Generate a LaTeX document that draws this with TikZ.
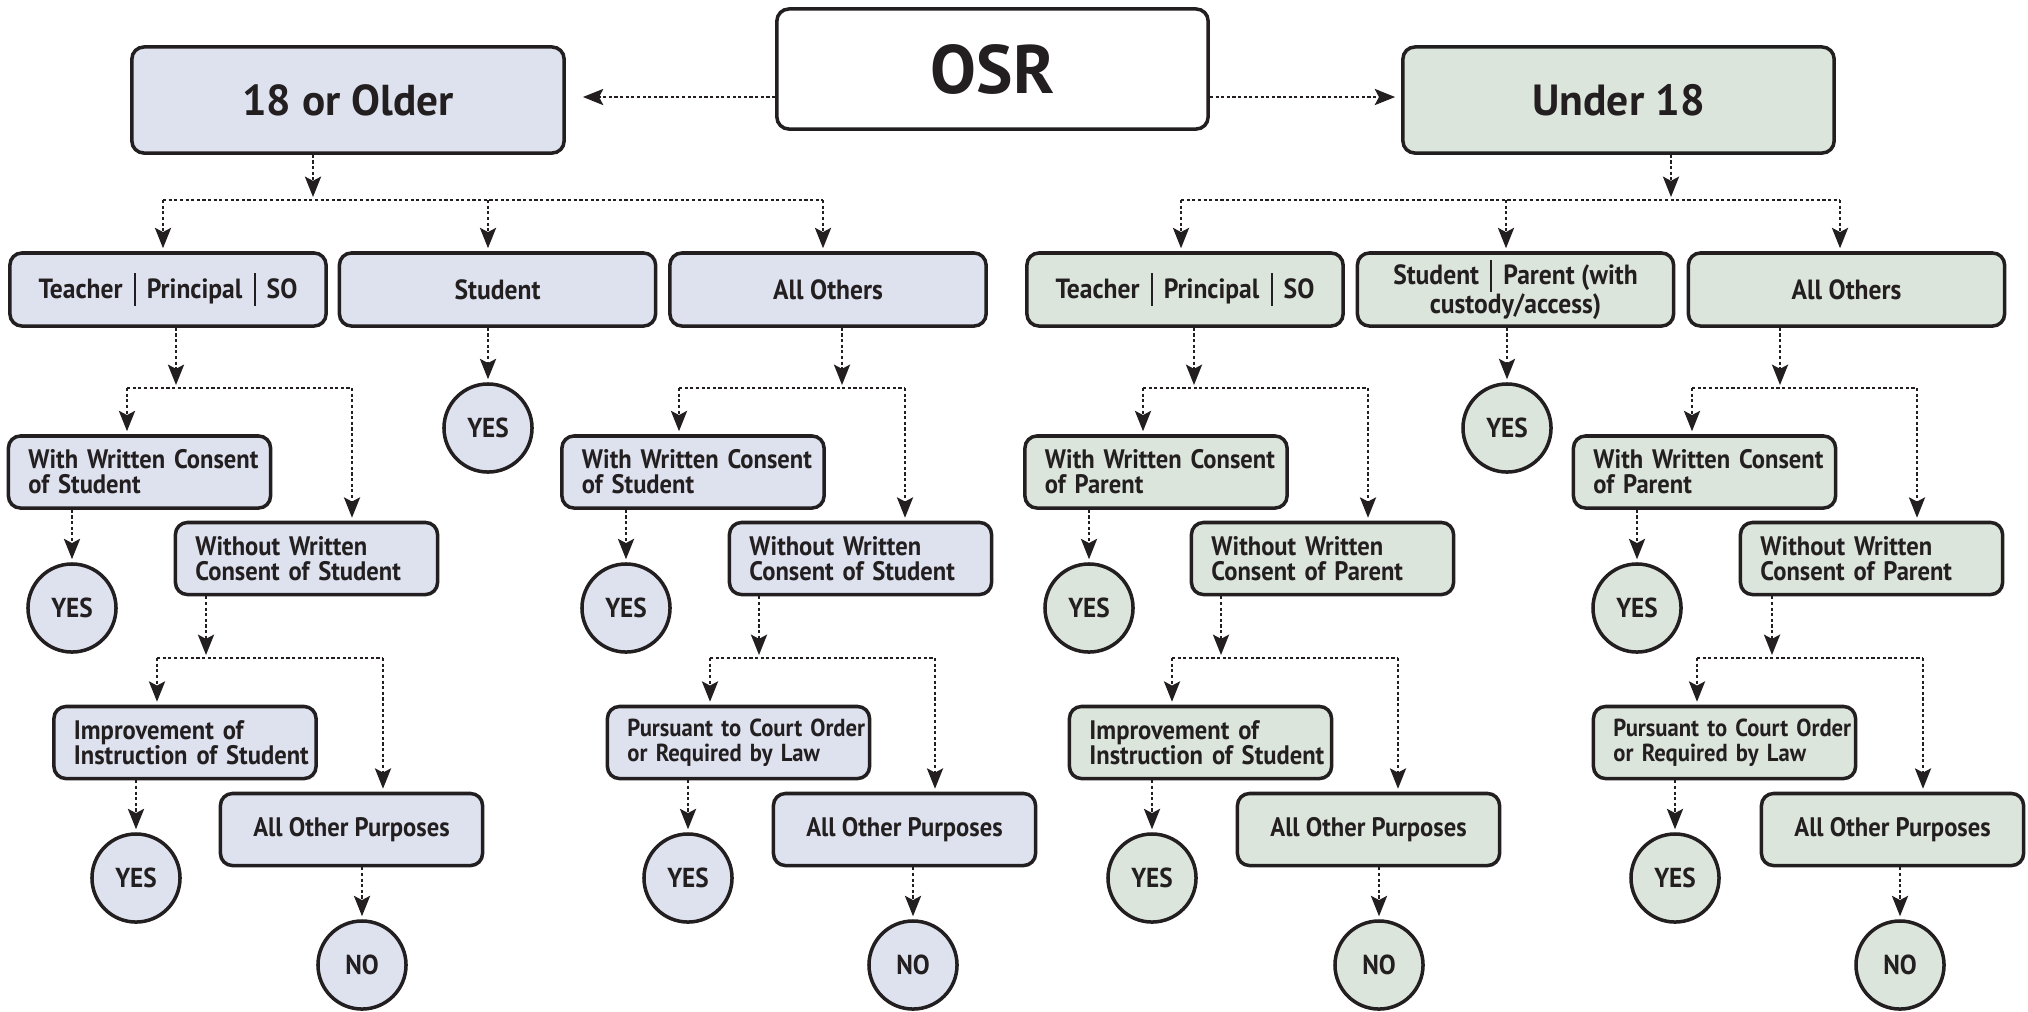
\documentclass[tikz,border=0pt]{standalone}
\usepackage{fontspec}
\setmainfont{PT Sans}
\newfontfamily\condfont{PT Sans}[FakeStretch=0.92]
\usetikzlibrary{arrows.meta}
\definecolor{fillL}{RGB}{222,226,239}
\definecolor{fillR}{RGB}{220,229,220}
\definecolor{ink}{RGB}{35,31,32}
\newcommand{\barsep}{\hspace{0.4em}\rule[-2.1pt]{0.6pt}{9.2pt}\hspace{0.4em}}
\newcommand{\mybranch}[7]{%
  \coordinate (#1-s) at (#2,#3);
  \coordinate (#1-a) at (#4,#3);
  \coordinate (#1-b) at (#5,#3);
  \draw[arr] (#1.south -| #1-s) -- (#1-s);
  \draw[conn] (#1-a) -- (#1-b);
  \draw[arr] (#1-a) -- (#1-a |- #6.north);
  \draw[arr] (#1-b) -- (#1-b |- #7.north);
}
\newcommand{\mytoyes}[2]{\draw[arr] (#1.south -| #2.north) -- (#2.north);}
\begin{document}
\begin{tikzpicture}[x=0.01cm,y=-0.01cm,
  every node/.style={text=ink},
  base/.style={draw=ink, line width=1pt, rounded corners=0.12cm},
  lvtwo/.style={base, minimum width=3.16cm, minimum height=0.73cm, align=center, inner sep=0pt, font=\condfont\fontsize{7.9}{8.1}\selectfont\bfseries},
  lvthree/.style={base, minimum height=0.72cm, text width=2.22cm, inner xsep=0.2cm, inner ysep=0pt, align=left, font=\condfont\fontsize{7.6}{7.1}\selectfont\bfseries},
  single/.style={base, minimum width=2.62cm, minimum height=0.72cm, inner sep=0pt, font=\condfont\fontsize{7.6}{7.1}\selectfont\bfseries},
  res/.style={circle, draw=ink, line width=1pt, minimum size=0.88cm, inner sep=0pt, font=\condfont\fontsize{7.8}{7.8}\selectfont\bfseries},
  L/.style={fill=fillL}, R/.style={fill=fillR},
  conn/.style={draw=ink, line width=0.6pt, dash pattern=on 0.9pt off 0.7pt},
  arr/.style={conn, -{Stealth[length=5.8pt,width=4.6pt,inset=1.2pt]}, shorten >=0.03cm},
  pursuant/.style={font=\condfont\fontsize{7.0}{7.1}\selectfont\bfseries},
]
\useasboundingbox (0,0) rectangle (2028,1011);

% top level
\node[base, fill=white, minimum width=4.31cm, minimum height=1.2cm, font=\fontsize{19.5}{20}\selectfont\bfseries] (osr) at (992.5,69) {OSR};
\node[base, L, minimum width=4.32cm, minimum height=1.06cm, font=\fontsize{12.3}{13}\selectfont\bfseries] (older) at (348,100) {18 or Older};
\node[base, R, minimum width=4.31cm, minimum height=1.06cm, font=\fontsize{12.4}{13}\selectfont\bfseries] (under) at (1618.5,100) {Under 18};

% level 2
\node[lvtwo, L] (tL) at (168,289.5) {Teacher\barsep Principal\barsep SO};
\node[lvtwo, L] (sL) at (497.5,289.5) {Student};
\node[lvtwo, L] (aL) at (828,289.5) {All Others};
\node[lvtwo, R] (tR) at (1185,289.5) {Teacher\barsep Principal\barsep SO};
\node[lvtwo, R] (sR) at (1515.5,289.5) {Student\barsep Parent (with\\custody/access)};
\node[lvtwo, R] (aR) at (1846.5,289.5) {All Others};

% level 3
\node[lvthree, L] (wL1) at (139.5,472) {\mbox{With Written Consent}\\\mbox{of Student}};
\node[lvthree, L] (woL1) at (306.5,558.5) {\mbox{Without Written}\\\mbox{Consent of Student}};
\node[lvthree, L] (wL2) at (693,472) {\mbox{With Written Consent}\\\mbox{of Student}};
\node[lvthree, L] (woL2) at (860.5,558.5) {\mbox{Without Written}\\\mbox{Consent of Student}};
\node[lvthree, R] (wR1) at (1156,472) {\mbox{With Written Consent}\\\mbox{of Parent}};
\node[lvthree, R] (woR1) at (1322.5,558.5) {\mbox{Without Written}\\\mbox{Consent of Parent}};
\node[lvthree, R] (wR2) at (1704.5,472) {\mbox{With Written Consent}\\\mbox{of Parent}};
\node[lvthree, R] (woR2) at (1871.5,558.5) {\mbox{Without Written}\\\mbox{Consent of Parent}};

% level 4
\node[lvthree, L] (impL) at (185,742.5) {\mbox{Improvement of}\\\mbox{Instruction of Student}};
\node[single, L] (aopL1) at (351.5,829.5) {All Other Purposes};
\node[lvthree, L, pursuant] (purL) at (738.5,742.5) {\mbox{Pursuant to Court Order}\\\mbox{or Required by Law}};
\node[single, L] (aopL2) at (904.5,829.5) {All Other Purposes};
\node[lvthree, R] (impR) at (1200.5,742.5) {\mbox{Improvement of}\\\mbox{Instruction of Student}};
\node[single, R] (aopR1) at (1368.5,829.5) {All Other Purposes};
\node[lvthree, R, pursuant] (purR) at (1724.5,742.5) {\mbox{Pursuant to Court Order}\\\mbox{or Required by Law}};
\node[single, R] (aopR2) at (1892.5,829.5) {All Other Purposes};

% results
\node[res, L] (yL0) at (488,428) {YES};
\node[res, L] (yL1) at (72,608) {YES};
\node[res, L] (yL2) at (136,878) {YES};
\node[res, L] (nL1) at (362,965) {NO};
\node[res, L] (yL3) at (626,608) {YES};
\node[res, L] (yL4) at (688,878) {YES};
\node[res, L] (nL2) at (913,965) {NO};
\node[res, R] (yR0) at (1507,428) {YES};
\node[res, R] (yR1) at (1089,608) {YES};
\node[res, R] (yR2) at (1152,878) {YES};
\node[res, R] (nR1) at (1379,965) {NO};
\node[res, R] (yR3) at (1637,608) {YES};
\node[res, R] (yR4) at (1675,878) {YES};
\node[res, R] (nR2) at (1900,965) {NO};

% connectors from OSR
\coordinate (hl) at (0,97);
\draw[arr, shorten >=0.17cm] (osr.west |- hl) -- (older.east |- hl);
\draw[arr, shorten >=0.06cm] (osr.east |- hl) -- (under.west |- hl);

% top branches
\coordinate (olS) at (313,200);
\coordinate (olA) at (163,200);
\coordinate (olB) at (488,200);
\coordinate (olC) at (823,200);
\draw[arr] (older.south -| olS) -- (olS);
\draw[conn] (olA) -- (olC);
\draw[arr] (olA) -- (olA |- tL.north);
\draw[arr] (olB) -- (olB |- sL.north);
\draw[arr] (olC) -- (olC |- aL.north);

\coordinate (unS) at (1671,200);
\coordinate (unA) at (1181,200);
\coordinate (unB) at (1506,200);
\coordinate (unC) at (1840,200);
\draw[arr] (under.south -| unS) -- (unS);
\draw[conn] (unA) -- (unC);
\draw[arr] (unA) -- (unA |- tR.north);
\draw[arr] (unB) -- (unB |- sR.north);
\draw[arr] (unC) -- (unC |- aR.north);

% second and third level branches
\mybranch{tL}{176}{388}{127}{352}{wL1}{woL1}
\mybranch{aL}{842}{388}{679}{905}{wL2}{woL2}
\mybranch{tR}{1194}{388}{1143}{1368}{wR1}{woR1}
\mybranch{aR}{1780}{388}{1692}{1917}{wR2}{woR2}
\mybranch{woL1}{206}{658}{157}{383}{impL}{aopL1}
\mybranch{woL2}{759}{658}{710}{935}{purL}{aopL2}
\mybranch{woR1}{1221}{658}{1172}{1398}{impR}{aopR1}
\mybranch{woR2}{1772}{658}{1697}{1923}{purR}{aopR2}

% to results
\mytoyes{sL}{yL0}
\mytoyes{wL1}{yL1}
\mytoyes{impL}{yL2}
\mytoyes{aopL1}{nL1}
\mytoyes{wL2}{yL3}
\mytoyes{purL}{yL4}
\mytoyes{aopL2}{nL2}
\mytoyes{sR}{yR0}
\mytoyes{wR1}{yR1}
\mytoyes{impR}{yR2}
\mytoyes{aopR1}{nR1}
\mytoyes{wR2}{yR3}
\mytoyes{purR}{yR4}
\mytoyes{aopR2}{nR2}
\end{tikzpicture}
\end{document}
